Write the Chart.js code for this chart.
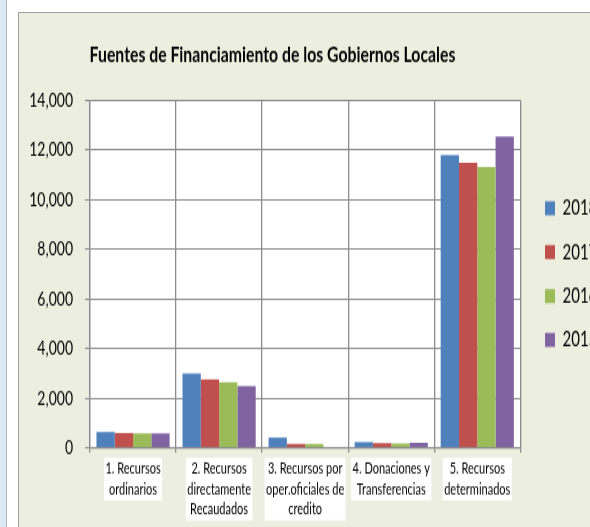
<!DOCTYPE html>
<html>
<head>
<meta charset="utf-8">
<script src="https://cdn.jsdelivr.net/npm/chart.js@4/dist/chart.umd.min.js"></script>
<style>
  html, body { margin: 0; padding: 0; width: 590px; height: 527px; overflow: hidden; background: #fff; }
  #strip { position: absolute; left: 0; top: 0; width: 6px; height: 527px; background: #dbe9f3; border-right: 1px solid #a9b8c4; }
  #frame { position: absolute; left: 18px; top: 12px; width: 620px; height: 530px; background: #eceedf; border-left: 1px solid #a0a0a0; border-top: 1px solid #a0a0a0; }
  /* the original picture is stretched vertically, so is this one */
  #frame canvas { position: absolute; left: 0; top: 0; transform: scaleY(1.4); transform-origin: 0 0; }
</style>
</head>
<body>
<div id="strip"></div>
<div id="frame"><canvas id="canvas" width="580" height="370"></canvas></div>
<script>
var FONT = "Lato, 'Open Sans', sans-serif";

var categories = [
    ['1. Recursos', 'ordinarios'],
    ['2. Recursos', 'directamente', 'Recaudados'],
    ['3. Recursos por', 'oper.oficiales de', 'credito'],
    ['4. Donaciones y', 'Transferencias'],
    ['5. Recursos', 'determinados']
];
var years = ['2018', '2017', '2016', '2015'];
var values2018 = [640, 2990, 410, 225, 11780];
var values2017 = [590, 2750, 160, 185, 11480];
var values2016 = [585, 2640, 150, 175, 11310];
var values2015 = [575, 2480, 0, 200, 12530];
var colors = ['#4f81bd', '#c0504d', '#9bbb59', '#8064a2'];

var GRID = '#8c8c8c';
var X_TICK = 3.6, X_PAD = 4.5, X_LINE = 14.3;
var xFont = { family: FONT, size: 11, lineHeight: X_LINE / 11 };

var extras = {
    id: 'extras',
    afterLayout: function (chart) {
        // title centred on the left part, legend pushed a bit to the right
        chart.titleBlock.left = 0;
        chart.titleBlock.right = 507;
        var lg = chart.legend;
        var dx = (526 - lg.options.labels.padding) - lg.left;
        lg.left += dx;
        lg.right += dx;
    },
    beforeDraw: function (chart) {
        var a = chart.chartArea, ctx = chart.ctx, xs = chart.scales.x;
        ctx.save();
        ctx.fillStyle = '#ffffff';
        ctx.fillRect(a.left, a.top, a.right - a.left, a.bottom - a.top);
        // white boxes behind the category labels
        ctx.font = Chart.helpers.toFont(xFont).string;
        var top = xs.top + X_TICK + X_PAD;
        categories.forEach(function (lines, i) {
            var w = 0;
            lines.forEach(function (t) { w = Math.max(w, ctx.measureText(t).width); });
            var x = xs.getPixelForTick(i);
            ctx.fillRect(x - w / 2 - 1.5, top - 1, w + 3, lines.length * X_LINE + 2);
        });
        ctx.restore();
    }
};

var ctx = document.getElementById('canvas').getContext('2d');
new Chart(ctx, {
    type: 'bar',
    data: {
        labels: categories,
        datasets: [values2018, values2017, values2016, values2015].map(function (d, i) {
            return {
                label: years[i],
                data: d,
                backgroundColor: colors[i],
                borderWidth: 0,
                categoryPercentage: 0.85,
                barPercentage: 1
            };
        })
    },
    options: {
        responsive: false,
        animation: false,
        layout: { padding: { top: 3, left: 0, right: 0, bottom: 0 } },
        plugins: {
            title: {
                display: true,
                text: 'Fuentes de Financiamiento de los Gobiernos Locales',
                color: '#000',
                font: { family: FONT, size: 15.8, weight: 'bold', lineHeight: 1.2 },
                padding: { top: 17.5, bottom: 22.8 }
            },
            legend: {
                position: 'right',
                labels: {
                    color: '#000',
                    font: { family: FONT, size: 15 },
                    boxWidth: 10,
                    boxHeight: 10,
                    padding: 16.4
                }
            },
            tooltip: { enabled: false }
        },
        scales: {
            x: {
                grid: { color: GRID, lineWidth: 1.3, tickLength: X_TICK, offset: true },
                border: { color: GRID, width: 1.3 },
                ticks: {
                    color: '#000',
                    font: xFont,
                    maxRotation: 0,
                    autoSkip: false,
                    padding: X_PAD
                },
                afterFit: function (s) { s.height = 59.5; }
            },
            y: {
                min: 0,
                max: 14000,
                grid: { color: GRID, lineWidth: 1, tickLength: 5 },
                border: { color: GRID, width: 1.3 },
                ticks: {
                    stepSize: 2000,
                    color: '#000',
                    font: { family: FONT, size: 14 },
                    padding: 12,
                    callback: function (v) { return v.toLocaleString('en-US'); }
                },
                afterFit: function (s) { s.width = 71; }
            }
        }
    },
    plugins: [extras]
});
</script>
</body>
</html>
